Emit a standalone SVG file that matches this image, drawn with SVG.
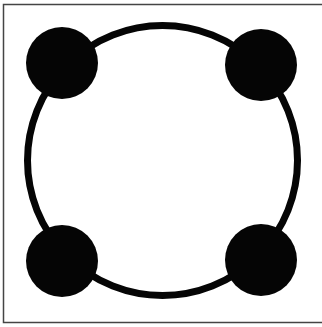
<svg xmlns="http://www.w3.org/2000/svg" width="322" height="327" viewBox="0 0 322 327">
<style>
.node{fill:#050505}
.ring{fill:none;stroke:#050505;stroke-width:7}
</style>
<rect x="0" y="0" width="322" height="327" fill="#ffffff"/>
<rect x="3.5" y="4.5" width="325" height="318" fill="none" stroke="#444444" stroke-width="1.5"/>
<g id="connectors">
<circle class="ring" cx="162.5" cy="160.5" r="135"/>
</g>
<g id="node-tl"><circle class="node" cx="62" cy="63" r="36"/></g>
<g id="node-tr"><circle class="node" cx="261" cy="65" r="36"/></g>
<g id="node-bl"><circle class="node" cx="62" cy="261" r="36"/></g>
<g id="node-br"><circle class="node" cx="261" cy="260" r="36"/></g>
</svg>
